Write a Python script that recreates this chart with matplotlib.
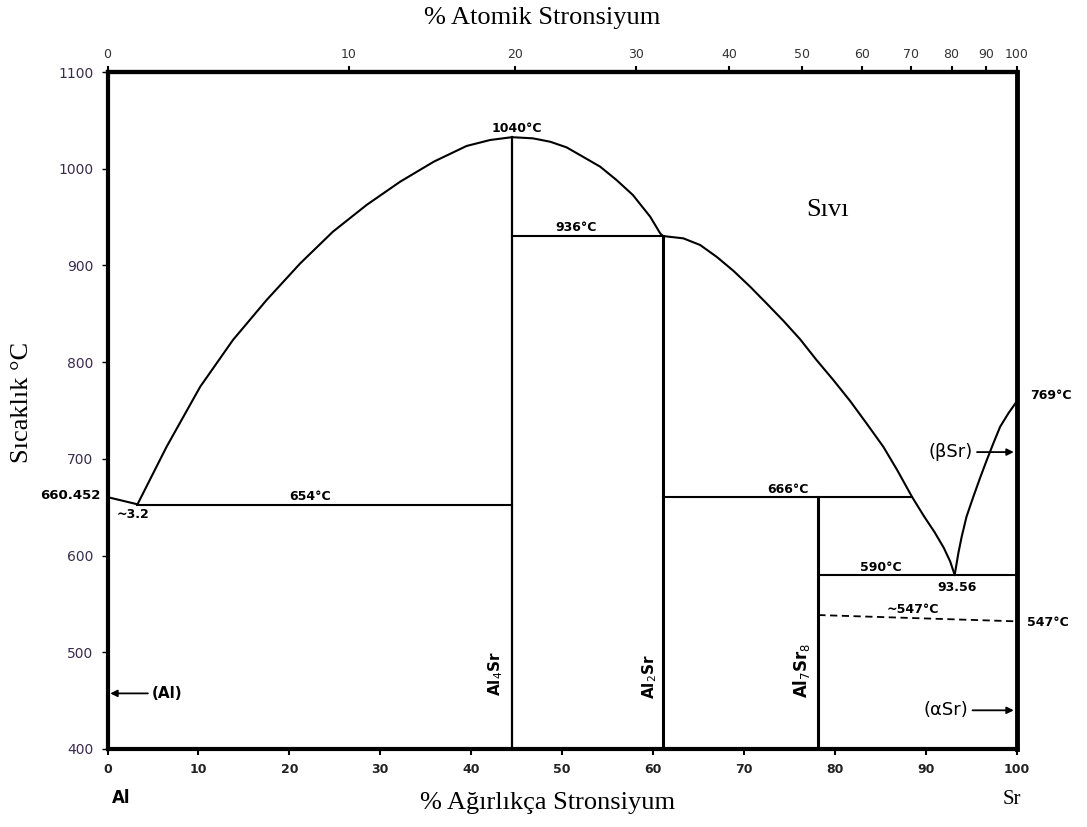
import numpy as np
import matplotlib
matplotlib.use("Agg")
import matplotlib.pyplot as plt

# ---------------- data (wt.% Sr, temperature °C) ----------------
al_liq_wt = [0.0, 3.3]
al_liq_T = [660.452, 653.0]

dome_left_wt = [3.3, 6.5, 10.2, 13.8, 17.5, 21.2, 24.8, 28.5, 32.2, 35.9, 39.5, 42.1, 44.5]
dome_left_T = [653, 712.5, 774.6, 822.9, 864.2, 902.1, 934.9, 962.5, 986.6, 1007.3, 1023.5, 1029.7, 1032.6]

dome_right_wt = [44.5, 46.8, 48.7, 50.5, 52.3, 54.2, 56.0, 57.8, 59.7, 60.8, 61.1]
dome_right_T = [1032.6, 1031.4, 1027.9, 1022.1, 1012.4, 1002.1, 988.3, 972.8, 950.4, 933.2, 930.4]

liq2_wt = [61.1, 63.35, 65.2, 67.0, 68.85, 70.7, 72.5, 74.35, 76.2, 78.0, 79.85,
           81.7, 83.5, 85.35, 86.9, 88.5, 89.8, 91.0, 92.0, 92.7, 93.2]
liq2_T = [930.4, 928.0, 921.1, 909.0, 894.5, 878.0, 860.8, 842.8, 823.6, 802.2, 781.5,
          759.8, 736.7, 712.5, 688.0, 660.8, 641.0, 624.0, 608.0, 594.0, 580.0]

sr_liq_wt = [93.2, 93.6, 93.97, 94.5, 95.25, 96.0, 96.7, 97.45, 98.2, 99.1, 100.0]
sr_liq_T = [580.0, 602.3, 619.5, 640.2, 660.8, 680.5, 698.0, 716.0, 733.2, 747.0, 759.0]

# compounds (wt.% Sr) and their top temperatures
compound_names = ["Al$_4$Sr", "Al$_2$Sr", "Al$_7$Sr$_8$"]
compound_wt = [44.5, 61.1, 78.2]
compound_top_T = [1032.6, 930.4, 660.8]

# invariant (horizontal) lines: (x_start, x_end, T)
iso_x0 = [3.3, 44.5, 61.1, 78.2]
iso_x1 = [44.5, 61.1, 88.5, 100.0]
iso_T = [652.5, 930.4, 660.8, 579.8]

# dashed ~547 °C line
dash_wt = [78.2, 100.0]
dash_T = [538.5, 532.0]

# atomic masses for the top (at.%) scale
M_AL, M_SR = 26.98, 87.62
top_ticks = [0, 10, 20, 30, 40, 50, 60, 70, 80, 90, 100]
bottom_ticks = [0, 10, 20, 30, 40, 50, 60, 70, 80, 90, 100]
y_ticks = [400, 500, 600, 700, 800, 900, 1000, 1100]


def wt2at(w):
    w = np.clip(np.asarray(w, dtype=float), 0, 100)
    a = w / M_SR
    b = (100 - w) / M_AL
    return 100 * a / (a + b)


def at2wt(x):
    x = np.clip(np.asarray(x, dtype=float), 0, 100)
    a = x * M_SR
    b = (100 - x) * M_AL
    return 100 * a / (a + b)


W, H = 1087, 827
fig = plt.figure(figsize=(W / 100, H / 100), dpi=100)
L, R, T, B = 107.5, 1016.5, 72, 749
ax = fig.add_axes([L / W, 1 - B / H, (R - L) / W, (B - T) / H])
ax.set_xlim(0, 100)
ax.set_ylim(400, 1100)

lw = 1.5
k = "black"
for xs, ys in [(al_liq_wt, al_liq_T), (dome_left_wt, dome_left_T),
               (dome_right_wt, dome_right_T), (liq2_wt, liq2_T),
               (sr_liq_wt, sr_liq_T)]:
    ax.plot(xs, ys, color=k, lw=lw, solid_joinstyle="round")

for x, t, w_ in zip(compound_wt, compound_top_T, [1.6, 2.2, 2.2]):
    ax.plot([x, x], [400, t], color=k, lw=w_)

for x0, x1, t in zip(iso_x0, iso_x1, iso_T):
    ax.plot([x0, x1], [t, t], color=k, lw=lw)

ax.plot(dash_wt, dash_T, color=k, lw=1.3, ls=(0, (4, 2.5)))

# spines
for s in ["left", "bottom", "top"]:
    ax.spines[s].set_linewidth(3.0)
ax.spines["right"].set_linewidth(3.5)

# ticks
ax.set_xticks(bottom_ticks)
ax.set_xticklabels([str(v) for v in bottom_ticks])
ax.set_yticks(y_ticks)
ax.set_yticklabels([str(v) for v in y_ticks])
ax.tick_params(axis="x", direction="out", length=4, width=1.5, pad=6,
               labelsize=9, labelcolor="#222222")
ax.tick_params(axis="y", direction="out", length=4, width=1, pad=6,
               labelsize=10, labelcolor="#3a2b4d")
for lbl in ax.get_xticklabels():
    lbl.set_fontweight("bold")

sec = ax.secondary_xaxis("top", functions=(wt2at, at2wt))
sec.set_xticks(top_ticks)
sec.set_xticklabels([str(v) for v in top_ticks])
sec.tick_params(axis="x", direction="out", length=4, width=1.5, pad=4,
                labelsize=9, labelcolor="#333333")
sec.spines["top"].set_linewidth(3.0)

# annotations
bf = dict(fontsize=9, fontweight="bold", family="DejaVu Sans", color="black")
ax.text(45.05, 1042, "1040°C", ha="center", va="center", **bf)
ax.text(51.5, 939.7, "936°C", ha="center", va="center", **bf)
ax.text(22.3, 661.5, "654°C", ha="center", va="center", **bf)
ax.text(2.8, 642, "~3.2", ha="center", va="center", **bf)
ax.text(74.9, 668.8, "666°C", ha="center", va="center", **bf)
ax.text(85.1, 588, "590°C", ha="center", va="center", **bf)
ax.text(93.5, 567.4, "93.56", ha="center", va="center", **bf)
ax.text(88.6, 544.7, "~547°C", ha="center", va="center", **bf)
ax.text(101.2, 531.2, "547°C", ha="left", va="center", clip_on=False, **bf)
ax.text(101.5, 766, "769°C", ha="left", va="center", clip_on=False, **bf)
ax.text(-0.8, 662.6, "660.452", ha="right", va="center", clip_on=False,
        fontsize=9.5, fontweight="bold", family="DejaVu Sans")

ax.text(79.2, 957, "Sıvı", ha="center", va="center", fontsize=19,
        family="Liberation Serif")

lab_pos_wt = [42.7, 59.6, 76.4]
lab_pos_T = [478.5, 475.4, 481.6]
lab_size = [11, 11, 12]
for name, x, y, s in zip(compound_names, lab_pos_wt, lab_pos_T, lab_size):
    ax.text(x, y, name, rotation=90, ha="center", va="center",
            fontsize=s, fontweight="bold", family="DejaVu Sans")

arrow = dict(arrowstyle="-|>", color="black", lw=1.3, mutation_scale=10,
             shrinkA=1, shrinkB=0)
ax.annotate("(Al)", xy=(0.3, 457.5), xytext=(4.9, 457.5), ha="left", va="center",
            fontsize=11, fontweight="bold", arrowprops=arrow)
ax.annotate("(βSr)", xy=(99.7, 707), xytext=(95.2, 707), ha="right", va="center",
            fontsize=13, arrowprops=arrow)
ax.annotate("(αSr)", xy=(99.7, 440), xytext=(94.7, 440), ha="right", va="center",
            fontsize=13, arrowprops=arrow)

# outer labels
fig.text(542 / W, 1 - 18 / H, "% Atomik Stronsiyum", ha="center", va="center",
         fontsize=19, family="Liberation Serif")
fig.text(548 / W, 1 - 803 / H, "% Ağırlıkça Stronsiyum", ha="center", va="center",
         fontsize=19, family="Liberation Serif")
fig.text(22 / W, 1 - 402 / H, "Sıcaklık °C", ha="center", va="center",
         rotation=90, fontsize=19, family="Liberation Serif")
fig.text(121 / W, 1 - 798 / H, "Al", ha="center", va="center",
         fontsize=12, fontweight="bold", family="DejaVu Sans")
fig.text(1012 / W, 1 - 800 / H, "Sr", ha="center", va="center",
         fontsize=15, family="Liberation Serif")

fig.savefig("out.png", dpi=100)
